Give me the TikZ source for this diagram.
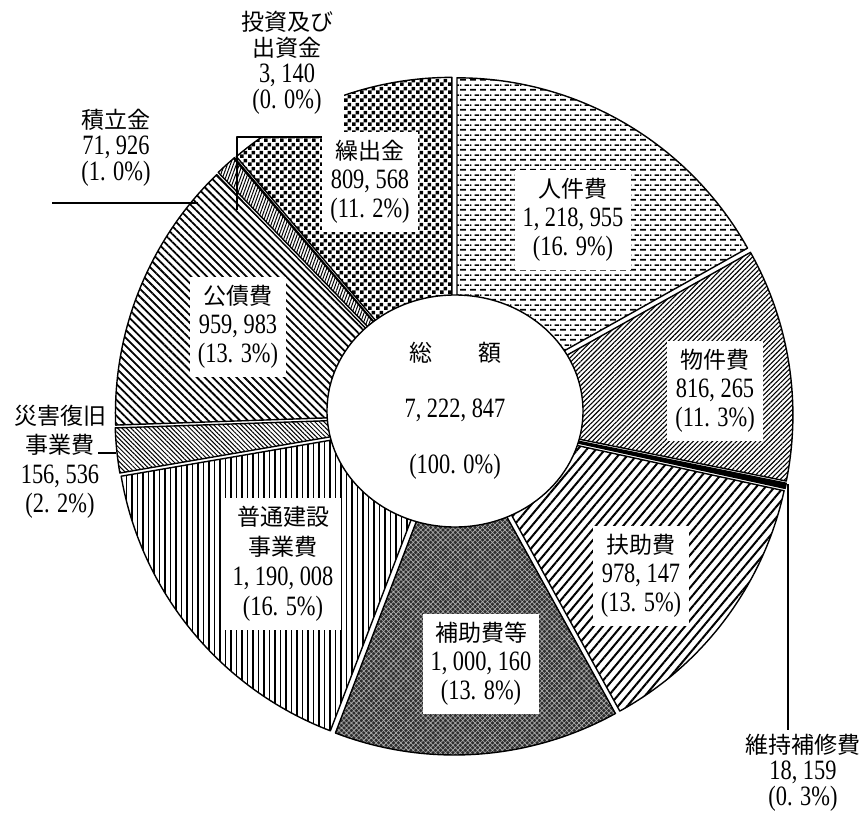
\documentclass[tikz,border=0pt]{standalone}
\usepackage{fontspec}
\setmainfont{Liberation Serif}[FakeStretch=0.8]
\newfontfamily\jp{Noto Sans CJK JP}
\usetikzlibrary{patterns.meta,shapes.geometric}

\newcommand\jt[1]{{\jp\fontsize{23}{29}\selectfont #1}}

\tikzdeclarepattern{
  name=dashrows,
  type=uncolored,
  bottom left={(0pt,0pt)},
  top right={(10pt,10pt)},
  tile size={(10pt,10pt)},
  code={
    \fill (0pt,1.6pt) rectangle (6.5pt,3.4pt);
    \fill (5pt,6.6pt) rectangle (10pt,8.4pt);
    \fill (0pt,6.6pt) rectangle (1.5pt,8.4pt);
  }
}
\tikzdeclarepattern{
  name=checks,
  type=uncolored,
  bottom left={(0pt,0pt)},
  top right={(8pt,8pt)},
  tile size={(8pt,8pt)},
  code={
    \fill (0pt,0pt) rectangle (4pt,4pt);
    \fill (4pt,4pt) rectangle (8pt,8pt);
  }
}

\begin{document}
\begin{tikzpicture}[x=1pt,y=-1pt,line join=round]
\tikzstyle{slice}=[draw=black,line width=1.4pt]
\tikzstyle{leader}=[draw=black,line width=1.1pt]
\tikzstyle{lbl}=[fill=white,align=center,inner xsep=8pt,inner ysep=8pt,font=\fontsize{28}{29}\selectfont]
\tikzstyle{outlbl}=[align=center,inner sep=0pt,font=\fontsize{28}{26}\selectfont]
\tikzstyle{pjinken}=[pattern=dashrows]
\tikzstyle{pbukken}=[pattern={Lines[angle=45,distance=3.4pt,line width=1.1pt]}]
\tikzstyle{pijiho}=[fill=black]
\tikzstyle{pfujo}=[pattern={Lines[angle=50,distance=7pt,line width=2pt]}]
\tikzstyle{phojo}=[preaction={fill=black!82},pattern={Hatch[angle=45,distance=3.5pt,line width=0.6pt]},pattern color=black!30]
\tikzstyle{pfutsu}=[pattern={Lines[angle=90,distance=5.5pt,line width=1.7pt]}]
\tikzstyle{psaigai}=[pattern={Lines[angle=-45,distance=3.2pt,line width=1pt]}]
\tikzstyle{pkousai}=[pattern={Lines[angle=-45,distance=5.6pt,line width=1.8pt]}]
\tikzstyle{ptsumi}=[pattern={Lines[angle=70,distance=2.8pt,line width=1pt]}]
\tikzstyle{ptoushi}=[fill=black]
\tikzstyle{pkuri}=[pattern=checks]
\useasboundingbox (0,0) rectangle (862,822);

% slices, clockwise from the top
\foreach \a/\b/\pat in {-90/-29.25/pjinken, -29.25/11.43/pbukken, 11.43/12.34/pijiho,
    12.34/61.09/pfujo, 61.09/110.94/phojo, 110.94/170.25/pfutsu, 170.25/178.05/psaigai,
    178.05/225.90/pkousai, 225.90/229.49/ptsumi, 229.49/229.65/ptoushi, 229.65/270/pkuri}{
  \pgfmathsetmacro\m{(\a+\b)/2}
  \path[slice,\pat,shift={(\m:6)}] (454,416) -- ++(\a:333)
    arc[start angle=\a,end angle=\b,radius=333] -- cycle;
}

\node[ellipse,draw,line width=1.4pt,fill=white,minimum width=256pt,minimum height=232pt,
      inner sep=0pt,align=center,font=\fontsize{28}{29}\selectfont] (total) at (455,411)
      {\jt{総　　額}\\[27pt]7, 222, 847\\[27pt](100. 0\%)};

\fill[white] (237,84) rectangle (344,136);

% leaders
\coordinate (tsL) at (52,203);
\coordinate (tsP) at (198,203);
\draw[leader] (tsL) -- (tsP);
\coordinate (toA) at (343,137);
\coordinate (toB) at (237,137);
\coordinate (toC) at (237,210);
\draw[leader] (toA) -- (toB) -- (toC);
\coordinate (saL) at (98,453);
\coordinate (saP) at (116,453);
\draw[leader] (saL) -- (saP);

% labels in the slices
\node[lbl] (jinken) at (573,220) {\jt{人件費}\\1, 218, 955\\(16. 9\%)};
\node[lbl] (bukken) at (715,391) {\jt{物件費}\\816, 265\\(11. 3\%)};
\node[lbl] (fujo) at (641,576) {\jt{扶助費}\\978, 147\\(13. 5\%)};
\node[lbl] (hojo) at (481,664) {\jt{補助費等}\\1, 000, 160\\(13. 8\%)};
\node[lbl,font=\fontsize{28}{30}\selectfont] (futsu) at (283,564)
     {\jt{普通建設}\\\jt{事業費}\\1, 190, 008\\(16. 5\%)};
\node[lbl] (kousai) at (238,327) {\jt{公債費}\\959, 983\\(13. 3\%)};
\node[lbl] (kuri) at (370,182) {\jt{繰出金}\\809, 568\\(11. 2\%)};

% labels outside
\node[outlbl] (toushi) at (287,63) {\jt{投資及び}\\\jt{出資金}\\3, 140\\(0. 0\%)};
\node[outlbl] (tsumi) at (116,148) {\jt{積立金}\\71, 926\\(1. 0\%)};
\node[outlbl,font=\fontsize{28}{29.5}\selectfont] (saigai) at (60,462)
     {\jt{災害復旧}\\\jt{事業費}\\156, 536\\(2. 2\%)};
\node[outlbl] (ijiho) at (803,773) {\jt{維持補修費}\\18, 159\\(0. 3\%)};

\coordinate (ijP) at (788,484);
\draw[leader] (ijP) -- ([yshift=4pt]ijP |- ijiho.north);
\end{tikzpicture}
\end{document}
